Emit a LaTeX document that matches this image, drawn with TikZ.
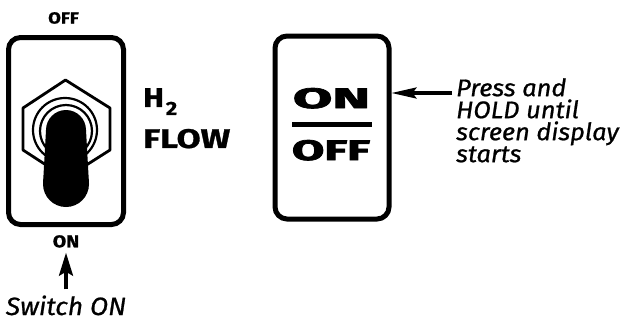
\documentclass[tikz,border=0pt]{standalone}
\usepackage{fontspec}
\setmainfont{Fira Sans}
\newfontfamily\heavyfont[FakeBold=2.5]{Fira Sans}
\newfontfamily\widefont[FakeStretch=1.15, FakeBold=1]{Fira Sans}
\newfontfamily\notefont[FakeBold=0.8, FakeStretch=1.06]{Fira Sans}
\usepackage{graphicx}
\usetikzlibrary{arrows.meta, positioning, calc}

\begin{document}
\begin{tikzpicture}[
  x=1pt, y=-1pt,
  >=Stealth,
  panel/.style={draw, line width=5pt, rounded corners=12pt, inner sep=0pt},
  lbl/.style={inner sep=0pt, align=left},
  note/.style={inner sep=0pt, align=left, font=\notefont\fontsize{24}{22}\selectfont\itshape},
  arr/.style={line width=3.2pt, -{Stealth[length=23pt, width=14pt, inset=4pt]}}
]
  \useasboundingbox (0,0) rectangle (634,322);

  % toggle switch panel
  \node[panel, minimum width=115pt, minimum height=187pt] (switch) at (66,131) {};
  \filldraw[fill=white, line width=2.8pt, line join=round]
    (65.5,80) -- (110,108) -- (110,150) -- (66,178) -- (23,150) -- (23,108) -- cycle;
  \filldraw[fill=white, line width=2.2pt] (65,130) circle (32pt);
  \draw[line width=2.2pt] (66,131) circle (26pt);
  % lever
  \fill (66,130) circle (20pt);
  \fill (66,184) circle (23pt);
  \fill (46,130) -- (86,130) -- (89,184) -- (43,184) -- cycle;

  \node[lbl, font=\widefont\bfseries\fontsize{16}{16}\selectfont, above=11pt of switch,
        xshift=-2.5pt] (offlbl) {OFF};
  \node[lbl, font=\widefont\bfseries\fontsize{17}{17}\selectfont, below=8pt of switch] (onlbl) {ON};
  \node[lbl, font=\widefont\bfseries\fontsize{27}{41}\selectfont, anchor=north west] (flow) at (143,88)
    {H\hspace{2pt}\raisebox{-8pt}{\fontsize{19}{19}\selectfont 2}\\\resizebox{87pt}{19pt}{FLOW}};

  % push button panel
  \node[panel, minimum width=114pt, minimum height=183pt] (onoff) at (332,127.5) {};
  \node[lbl, anchor=base] (onface) at (331.5,108)
    {\resizebox{77pt}{20pt}{\heavyfont\bfseries ON}};
  \node[lbl, anchor=base] (offface) at (331,160)
    {\resizebox{78pt}{20pt}{\heavyfont\bfseries OFF}};
  \draw[line width=4.5pt] (292,124.5) -- (372,124.5);

  % notes
  \node[note, anchor=north west] (press) at (456,78)
    {Press and\\HOLD until\\screen display\\starts};
  \node[note, font=\notefont\fontsize{25}{25}\selectfont\itshape, anchor=base] (switchon) at (66,315) {Switch ON};

  \coordinate (pressarr) at ([xshift=-4pt, yshift=-15pt]press.north west);
  \draw[arr, -{Stealth[length=25pt, width=11pt, inset=4pt]}] (pressarr) -- (pressarr -| onoff.east);
  \draw[arr, shorten <=6pt, shorten >=5pt] (switchon.north) -- (onlbl.south);
\end{tikzpicture}
\end{document}
